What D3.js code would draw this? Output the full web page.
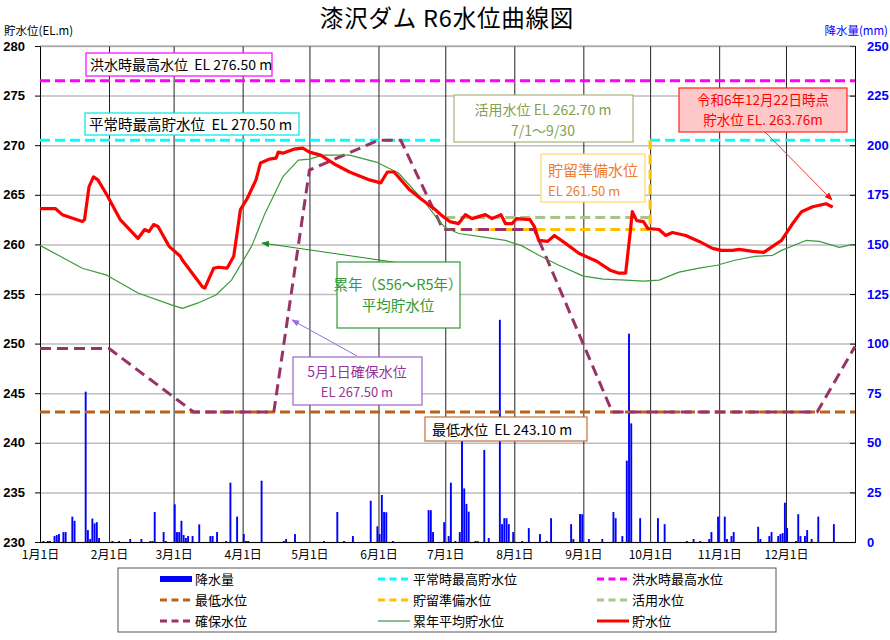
<!DOCTYPE html>
<html><head><meta charset="utf-8">
<script src="https://cdn.jsdelivr.net/npm/d3@7"></script>
<style>body{margin:0;background:#fff}svg{display:block}</style>
</head><body>
<svg id="c" width="890" height="640"></svg>
<script>
// ---------- DATA ----------
const monthStarts = ["2024-01-01","2024-02-01","2024-03-01","2024-04-01","2024-05-01","2024-06-01","2024-07-01","2024-08-01","2024-09-01","2024-10-01","2024-11-01","2024-12-01"];
const monthLabels = ["1月1日","2月1日","3月1日","4月1日","5月1日","6月1日","7月1日","8月1日","9月1日","10月1日","11月1日","12月1日"];
const levelTicks = [230,235,240,245,250,255,260,265,270,275,280];
const rainTicks = [0,25,50,75,100,125,150,175,200,225,250];

// 貯水位 (EL.m)
const levelDates = ["2024-01-01","2024-01-08","2024-01-11","2024-01-20","2024-01-21","2024-01-23","2024-01-25","2024-01-27","2024-01-31","2024-02-06","2024-02-14","2024-02-17","2024-02-19","2024-02-21","2024-02-23","2024-02-28","2024-03-04","2024-03-05","2024-03-14","2024-03-15","2024-03-19","2024-03-21","2024-03-25","2024-03-28","2024-03-31","2024-04-03","2024-04-07","2024-04-09","2024-04-13","2024-04-16","2024-04-17","2024-04-19","2024-04-24","2024-04-28","2024-05-01","2024-05-06","2024-05-13","2024-05-19","2024-05-28","2024-06-02","2024-06-05","2024-06-08","2024-06-15","2024-06-20","2024-06-26","2024-06-29","2024-07-03","2024-07-07","2024-07-10","2024-07-13","2024-07-19","2024-07-22","2024-07-26","2024-07-28","2024-07-31","2024-08-02","2024-08-08","2024-08-10","2024-08-12","2024-08-16","2024-08-19","2024-08-24","2024-08-30","2024-09-07","2024-09-13","2024-09-17","2024-09-20","2024-09-22","2024-09-23","2024-09-25","2024-09-28","2024-09-30","2024-10-05","2024-10-08","2024-10-11","2024-10-17","2024-10-23","2024-10-29","2024-11-02","2024-11-07","2024-11-10","2024-11-16","2024-11-21","2024-11-25","2024-11-29","2024-12-04","2024-12-08","2024-12-13","2024-12-17","2024-12-19","2024-12-22"];
const levelValues = [263.6,263.6,263.0,262.3,262.5,265.8,266.8,266.5,265.0,262.5,260.6,261.5,261.3,262.0,261.8,259.8,258.8,258.4,255.7,255.6,257.6,257.7,257.6,258.8,263.5,264.6,266.5,268.2,268.6,268.7,269.3,269.2,269.6,269.7,269.3,269.0,268.0,267.3,266.5,266.2,267.3,267.3,265.5,264.6,263.6,263.0,262.3,262.1,263.0,262.6,263.0,262.6,263.0,262.1,262.1,262.6,262.5,261.8,260.4,260.3,260.9,260.1,259.1,258.3,257.4,257.1,257.1,261.1,263.3,262.4,262.3,261.6,261.5,260.9,261.2,260.9,260.3,259.6,259.4,259.4,259.5,259.3,259.2,259.8,260.4,262.1,263.3,263.8,264.0,264.1,263.76];

// 累年平均貯水位 (S56〜R5)
const avgDates = ["2024-01-01","2024-01-20","2024-01-31","2024-02-14","2024-02-29","2024-03-05","2024-03-12","2024-03-20","2024-03-27","2024-04-05","2024-04-11","2024-04-19","2024-04-26","2024-05-01","2024-05-07","2024-05-19","2024-05-31","2024-06-10","2024-06-22","2024-06-28","2024-07-01","2024-07-07","2024-07-16","2024-07-28","2024-08-04","2024-08-12","2024-08-21","2024-09-01","2024-09-10","2024-09-20","2024-09-28","2024-10-05","2024-10-14","2024-10-23","2024-10-31","2024-11-08","2024-11-17","2024-11-25","2024-11-29","2024-12-10","2024-12-16","2024-12-25","2024-12-31"];
const avgValues = [259.9,257.6,256.9,255.1,253.9,253.55,254.1,254.9,256.4,259.8,263.1,266.8,268.5,268.6,269.0,269.0,268.3,267.2,264.2,262.4,261.7,261.1,260.8,260.4,259.9,258.9,257.9,256.8,256.5,256.4,256.3,256.4,257.2,257.6,257.9,258.4,258.8,258.9,259.4,260.4,260.3,259.7,260.0];

// 確保水位
const securedDates = ["2024-01-01","2024-02-01","2024-03-10","2024-04-15","2024-05-01","2024-06-01","2024-06-11","2024-06-30","2024-08-10","2024-09-14","2024-12-15","2025-01-01"];
const securedValues = [249.5,249.5,243.1,243.1,267.5,270.5,270.5,261.5,261.5,243.1,243.1,249.7];

// 降水量 (mm)
const rainDates = ["2024-01-02","2024-01-04","2024-01-05","2024-01-07","2024-01-08","2024-01-09","2024-01-11","2024-01-12","2024-01-15","2024-01-16","2024-01-21","2024-01-22","2024-01-23","2024-01-24","2024-01-25","2024-01-26","2024-01-27","2024-02-02","2024-02-05","2024-02-10","2024-02-15","2024-02-19","2024-02-20","2024-02-21","2024-02-25","2024-02-26","2024-03-01","2024-03-02","2024-03-03","2024-03-04","2024-03-05","2024-03-06","2024-03-07","2024-03-09","2024-03-12","2024-03-17","2024-03-18","2024-03-20","2024-03-24","2024-03-26","2024-03-29","2024-04-01","2024-04-02","2024-04-03","2024-04-09","2024-04-19","2024-04-20","2024-04-24","2024-05-07","2024-05-13","2024-05-16","2024-05-20","2024-05-28","2024-05-31","2024-06-01","2024-06-02","2024-06-03","2024-06-04","2024-06-07","2024-06-23","2024-06-24","2024-06-25","2024-06-30","2024-07-02","2024-07-03","2024-07-05","2024-07-07","2024-07-08","2024-07-09","2024-07-10","2024-07-11","2024-07-14","2024-07-15","2024-07-18","2024-07-20","2024-07-25","2024-07-26","2024-07-27","2024-07-28","2024-07-29","2024-07-31","2024-08-04","2024-08-07","2024-08-12","2024-08-15","2024-08-17","2024-08-26","2024-08-27","2024-08-30","2024-08-31","2024-09-03","2024-09-09","2024-09-14","2024-09-15","2024-09-18","2024-09-20","2024-09-21","2024-09-22","2024-09-26","2024-10-04","2024-10-07","2024-10-17","2024-10-20","2024-10-23","2024-10-27","2024-10-28","2024-10-31","2024-11-03","2024-11-04","2024-11-06","2024-11-07","2024-11-18","2024-11-19","2024-11-23","2024-11-24","2024-11-27","2024-11-28","2024-11-29","2024-11-30","2024-12-01","2024-12-05","2024-12-06","2024-12-07","2024-12-09","2024-12-10","2024-12-12","2024-12-15","2024-12-22"];
const rainMm = [0.5,0.5,0.5,3,3.5,4,5,5,12.8,10.7,75.8,6,1.5,11.8,9.4,10,2,0.5,0.5,1.5,1.5,0.5,0.5,15.1,5,0.5,19,5,5,10.7,3.5,2,3,3,8.9,3,3,5,0.5,29.9,12.8,4,0.5,0.5,30.9,0.5,1.5,4,0.5,15.1,0.5,3,20.8,7.9,4,23.7,15.1,15,0.5,16.1,16,5,10,3,29.9,0.5,5,51.4,27,19.2,15.3,0.5,0.5,46.4,2,112,9,12,12,9,5,0.5,7,4,0.5,12,9,1.5,14.1,14,1.5,1.5,15.1,12,3,41,105,59.8,12,12,9,0.5,1.5,0.5,1.5,5,12.8,12.8,1.5,3,5,7.7,1.5,3,5,3,4,4.5,19.8,7,0.5,14,3,3,6,1.5,12.8,9];

// 基準水位
const floodMaxLevel = 276.5;    // 洪水時最高水位
const normalMaxLevel = 270.5;   // 平常時最高貯水位
const minLevel = 243.1;         // 最低水位
const prepLevel = 261.5;        // 貯留準備水位
const activeLevel = 262.7;      // 活用水位
const floodSeason = ["2024-07-01","2024-10-01"];

// ---------- DRAW ----------
const svg = d3.select("#c");
const parse = d3.timeParse("%Y-%m-%d");
const L = 40, R = 855, T = 46, B = 542;
const x = d3.scaleTime().domain([parse("2024-01-01"), parse("2025-01-01")]).range([L, R]);
const y = d3.scaleLinear().domain([230, 280]).range([B, T]);
const yR = d3.scaleLinear().domain([0, 250]).range([B, T]);
const JP = "'Noto Sans CJK JP','Noto Sans',sans-serif";
const NUM = "'Liberation Sans',Arial,sans-serif";

// horizontal grid
svg.append("g").attr("transform", `translate(${L},0)`)
  .call(d3.axisLeft(y).tickValues(levelTicks).tickSize(-(R - L)).tickFormat(""))
  .call(g => g.select(".domain").remove())
  .call(g => g.selectAll("line").attr("stroke", "#bdbdbd").attr("stroke-width", 1.5));

// vertical month lines + labels
svg.append("g").attr("transform", `translate(0,${B})`)
  .call(d3.axisBottom(x).tickValues(monthStarts.map(parse)).tickSize(-(B - T))
    .tickFormat((d, i) => monthLabels[i]))
  .call(g => g.select(".domain").attr("stroke", "#000"))
  .call(g => g.selectAll("line").attr("stroke", "#222").attr("stroke-width", 1))
  .call(g => g.selectAll("text").attr("dy", "1.15em").attr("font-family", JP).attr("font-size", 12).attr("fill", "#000"));

// left axis
svg.append("g").attr("transform", `translate(${L},0)`)
  .call(d3.axisLeft(y).tickValues(levelTicks).tickSize(5).tickPadding(10))
  .call(g => g.select(".domain").attr("stroke", "#000"))
  .call(g => g.selectAll("text").attr("font-family", NUM).attr("font-weight", "bold").attr("font-size", 13).attr("fill", "#000"));
// right axis
svg.append("g").attr("transform", `translate(${R},0)`)
  .call(d3.axisRight(yR).tickValues(rainTicks).tickSize(-5).tickPadding(12))
  .call(g => g.select(".domain").attr("stroke", "#000"))
  .call(g => g.selectAll("line").attr("stroke", "#000"))
  .call(g => g.selectAll("text").attr("font-family", NUM).attr("font-weight", "bold").attr("font-size", 13).attr("fill", "#0000ff"));
// top frame
svg.append("line").attr("x1", L).attr("x2", R).attr("y1", T).attr("y2", T).attr("stroke", "#999");

// rain bars
const dayW = x(parse("2024-01-02")) - x(parse("2024-01-01"));
svg.append("g").selectAll("rect")
  .data(rainDates.map((d, i) => ({ d: parse(d), v: rainMm[i] })))
  .join("rect")
  .attr("x", d => x(d.d) + 0.2).attr("width", dayW * 0.85)
  .attr("y", d => yR(d.v)).attr("height", d => B - yR(d.v))
  .attr("fill", "#0000ff");

const line = d3.line().x(d => x(d[0])).y(d => y(d[1]));
function drawLine(pts, color, width, dash) {
  svg.append("path").attr("d", line(pts)).attr("fill", "none")
    .attr("stroke", color).attr("stroke-width", width)
    .attr("stroke-dasharray", dash || null).attr("stroke-linejoin", "round");
}
const s0 = parse("2024-01-01"), s1 = parse(floodSeason[0]), s2 = parse(floodSeason[1]), s3 = parse("2025-01-01");
// reference lines
drawLine([[s0, floodMaxLevel], [s3, floodMaxLevel]], "#ff00ff", 3, "10,5");
drawLine([[s0, normalMaxLevel], [s1, normalMaxLevel]], "#00ffff", 3, "10,5");
drawLine([[s2, normalMaxLevel], [s3, normalMaxLevel]], "#00ffff", 3, "10,5");
drawLine([[s0, minLevel], [s3, minLevel]], "#b8621b", 3, "10,5");
drawLine([[s1, activeLevel], [s2, activeLevel]], "#a9c488", 3, "10,5");
drawLine([[s1, prepLevel], [s2, prepLevel], [s2, normalMaxLevel]], "#ffc000", 3, "10,5");
// 確保水位
drawLine(securedDates.map((d, i) => [parse(d), securedValues[i]]), "#993366", 3, "11,6");
// 累年平均
drawLine(avgDates.map((d, i) => [parse(d), avgValues[i]]), "#3c9a3c", 1.2);
// 貯水位
drawLine(levelDates.map((d, i) => [parse(d), levelValues[i]]), "#ff0000", 3.2);

// arrow markers
const defs = svg.append("defs");
function marker(id, color) {
  defs.append("marker").attr("id", id).attr("viewBox", "0 0 10 10").attr("refX", 9).attr("refY", 5)
    .attr("markerWidth", 8).attr("markerHeight", 8).attr("orient", "auto-start-reverse")
    .append("path").attr("d", "M0,1 L10,5 L0,9 z").attr("fill", color);
}
marker("mR", "#ff0000"); marker("mG", "#1f8a1f"); marker("mP", "#9370db");
function arrow(x1, y1, x2, y2, color, id) {
  svg.append("line").attr("x1", x1).attr("y1", y1).attr("x2", x2).attr("y2", y2)
    .attr("stroke", color).attr("stroke-width", 1).attr("marker-end", `url(#${id})`);
}
arrow(400, 263, 262, 243, "#1f8a1f", "mG");
arrow(357, 356, 292, 320, "#9370db", "mP");
arrow(765, 132, 832, 200, "#ff3030", "mR");

// annotation boxes
function box(bx, by, bw, bh, stroke, fill) {
  svg.append("rect").attr("x", bx).attr("y", by).attr("width", bw).attr("height", bh)
    .attr("fill", fill || "#fff").attr("stroke", stroke).attr("stroke-width", 1.2);
}
function txt(tx, ty, s, color, size, anchor) {
  return svg.append("text").attr("x", tx).attr("y", ty).text(s).attr("fill", color)
    .attr("font-family", JP).attr("font-size", size).attr("text-anchor", anchor || "start");
}
box(86, 53, 186, 23, "#ff00ff");
txt(90, 70, "洪水時最高水位  EL 276.50 m", "#000", 14).attr("xml:space", "preserve");
box(85, 113, 214, 22, "#00e5e5");
txt(89, 130, "平常時最高貯水位  EL 270.50 m", "#000", 14.5).attr("xml:space", "preserve");
box(454, 95, 179, 47, "#a7b27c");
txt(543, 115, "活用水位 EL 262.70 m", "#86a050", 14, "middle");
txt(543, 136, "7/1〜9/30", "#86a050", 14, "middle");
box(541, 154, 104, 48, "#ffd966");
txt(548, 176, "貯留準備水位", "#ed7d31", 15);
txt(548, 196, "EL 261.50 m", "#ed7d31", 13);
box(679, 88, 168, 44, "#ff2020", "#ffc8c8");
txt(763, 105, "令和6年12月22日時点", "#ff0000", 13.5, "middle");
txt(763, 125, "貯水位 EL. 263.76m", "#ff0000", 13.5, "middle");
box(337, 262, 123, 66, "#339933");
txt(398, 290, "累年（S56〜R5年）", "#339933", 14.5, "middle");
txt(398, 311, "平均貯水位", "#339933", 14.5, "middle");
box(293, 357, 129, 48, "#9966cc");
txt(357, 377, "5月1日確保水位", "#993399", 14, "middle");
txt(357, 397, "EL 267.50 m", "#993399", 13, "middle");
box(425, 417, 162, 24, "#c0703a");
txt(432, 435, "最低水位  EL 243.10 m", "#000", 14).attr("xml:space", "preserve");

// title and axis titles
txt(447, 27, "漆沢ダム R6水位曲線図", "#000", 23.5, "middle").attr("letter-spacing", 0.8);
txt(4, 35, "貯水位(EL.m)", "#000", 11.5);
txt(888, 35, "降水量(mm)", "#0000ff", 11.5, "end");

// legend
svg.append("rect").attr("x", 118).attr("y", 568).attr("width", 658).attr("height", 64)
  .attr("fill", "#fff").attr("stroke", "#555").attr("stroke-width", 1);
const legendItems = [
  { t: "降水量", c: "#0000ff", type: "bar" },
  { t: "平常時最高貯水位", c: "#00ffff", type: "dash" },
  { t: "洪水時最高水位", c: "#ff00ff", type: "dash" },
  { t: "最低水位", c: "#b8621b", type: "dash" },
  { t: "貯留準備水位", c: "#ffc000", type: "dash" },
  { t: "活用水位", c: "#a9c488", type: "dash" },
  { t: "確保水位", c: "#993366", type: "dash" },
  { t: "累年平均貯水位", c: "#1f7a1f", type: "thin" },
  { t: "貯水位", c: "#ff0000", type: "thick" }
];
const colX = [160, 378, 597], rowY = [579, 600, 621];
legendItems.forEach((it, i) => {
  const cx = colX[i % 3], cy = rowY[Math.floor(i / 3)];
  if (it.type === "bar") {
    svg.append("rect").attr("x", cx).attr("y", cy - 3).attr("width", 32).attr("height", 6).attr("fill", it.c);
  } else {
    svg.append("line").attr("x1", cx).attr("x2", cx + 32).attr("y1", cy).attr("y2", cy)
      .attr("stroke", it.c)
      .attr("stroke-width", it.type === "thin" ? 1 : 3)
      .attr("stroke-dasharray", it.type === "dash" ? "7,4.5" : null);
  }
  txt(cx + 35, cy + 5, it.t, "#000", 13);
});
</script>
</body></html>
